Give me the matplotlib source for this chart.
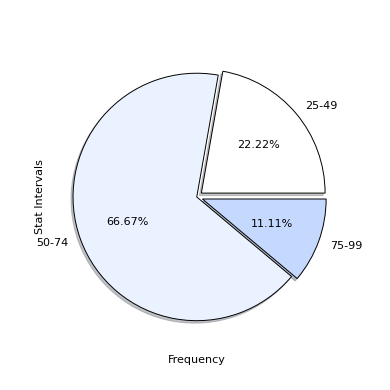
import matplotlib
matplotlib.use('Agg')
import matplotlib.pyplot as plt

labels = ['25-49', '50-74', '75-99']
freq = [2, 6, 1]
colors = ['#ffffff', '#eaf1ff', '#c5d9ff']
explode = [0.05, 0, 0.05]

fig = plt.figure(figsize=(3.9, 3.9), dpi=100)
ax = fig.add_axes([0.117, 0.11, 0.775, 0.77])
ax.pie(freq, labels=labels, colors=colors, explode=explode, radius=1.03,
       shadow={'ox': -0.012, 'oy': -0.015, 'shade': 0.45},
       autopct='%.2f%%', wedgeprops={'edgecolor': 'black', 'linewidth': 0.7},
       textprops={'fontsize': 8})
ax.set_xlabel('Frequency', fontsize=8, labelpad=6)
ax.set_ylabel('Stat Intervals', fontsize=8, labelpad=1)

fig.savefig('out.png', dpi=100)
